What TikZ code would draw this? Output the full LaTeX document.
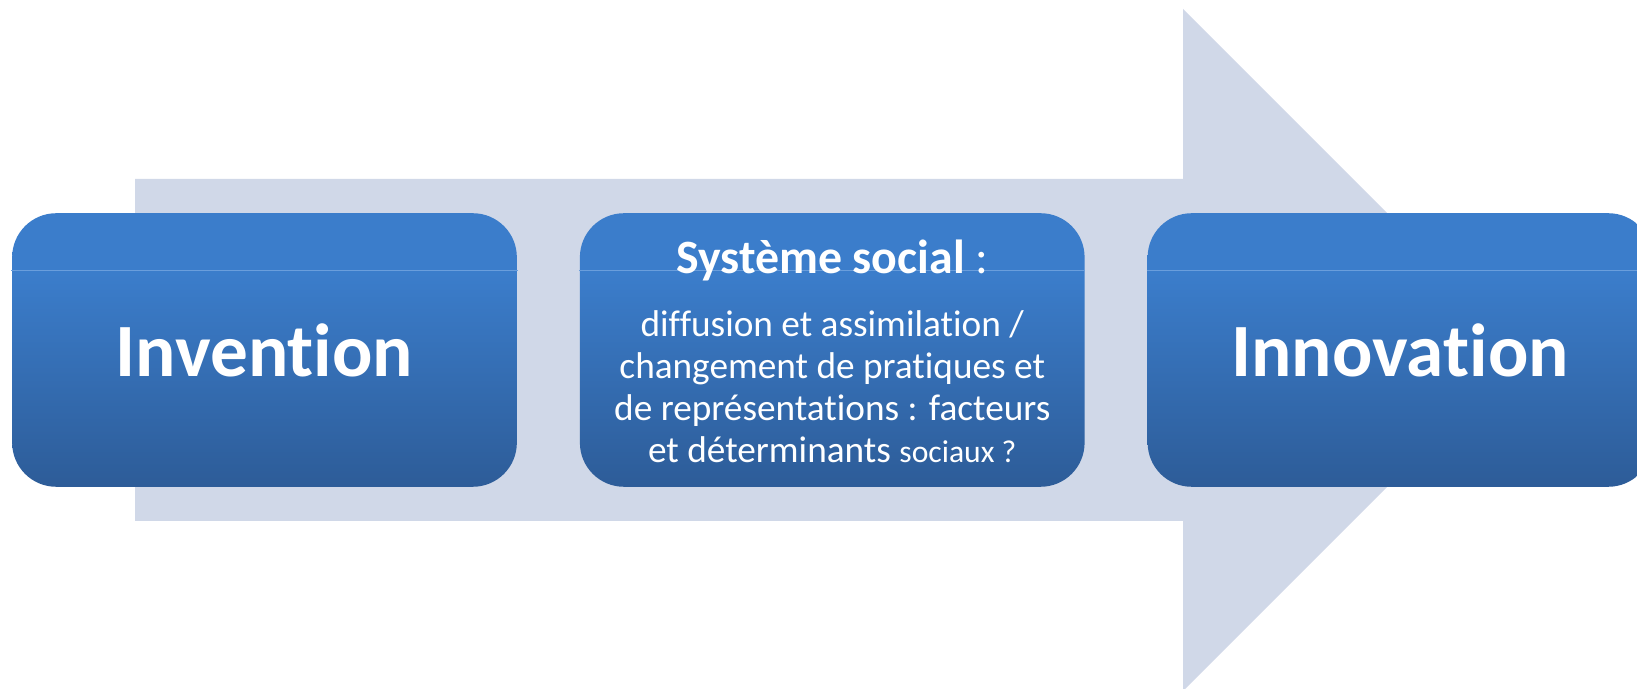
\documentclass[tikz,border=0pt]{standalone}
\usepackage{fontspec}
\setmainfont{Carlito}[Ligatures=NoCommon]
\usetikzlibrary{calc, positioning}

\definecolor{shaftgray}{HTML}{D0D8E8}
\definecolor{boxtop}{HTML}{3B7DCB}
\definecolor{boxbot}{HTML}{2D5C98}
\definecolor{boxline}{HTML}{6A9EDC}
\pgfdeclareverticalshading{boxfade}{100bp}{color(0bp)=(boxbot); color(25bp)=(boxbot);
  color(64bp)=(boxtop); color(100bp)=(boxtop)}

\begin{document}
\begin{tikzpicture}[x=0.01cm,y=-0.01cm,
   stage/.style={rounded corners=0.44cm,shading=boxfade,minimum width=5.044cm,
     minimum height=2.734cm,inner sep=0pt,text=white},
   bigword/.style={font=\fontsize{21.4pt}{26pt}\selectfont\bfseries},
   hilite/.style={boxline,line width=0.5pt}]
  \useasboundingbox (0,0) rectangle (1637,689);
  % the big arrow behind the boxes
  \fill[shaftgray] (135,179) -- (1183,179) -- (1183,9) -- (1524,350)
    -- (1183,691) -- (1183,521) -- (135,521) -- cycle;
  % three stages
  \node[stage,bigword] (inv) at (264.5,350) {Invention};
  \node[stage,right=0.616cm of inv] (soc) {};
  \node[stage,bigword,right=0.616cm of soc] (inn) {Innovation};
  % thin light line near the top of each box
  \foreach \s in {inv,soc,inn}
    \draw[hilite] ($(\s.north west)+(0,58)$) -- ($(\s.north east)+(0,58)$);
  % text of the middle box
  \node[anchor=base,text=white,inner sep=0pt,font=\fontsize{13.6pt}{16pt}\selectfont]
    (soctitle) at (soc.center |- 0,274) {\textbf{Système social} :};
  \node[anchor=north,text=white,inner sep=0pt,align=center,
        font=\fontsize{10.6pt}{11.9pt}\selectfont] (socbody) at (soc.center |- 0,310)
    {diffusion et assimilation /\\ changement de pratiques et\\
     de représentations : facteurs\\ et déterminants {\fontsize{9pt}{10pt}\selectfont sociaux ?}};
\end{tikzpicture}
\end{document}
